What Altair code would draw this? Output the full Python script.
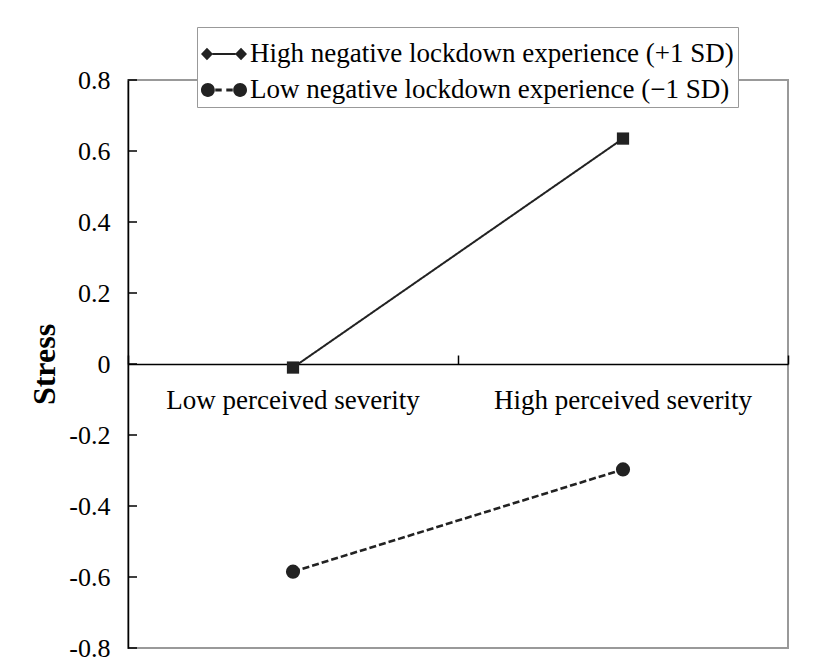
import altair as alt
import pandas as pd

# ---- data ----
categories = ["Low perceived severity", "High perceived severity"]
series = ["High negative lockdown experience (+1 SD)",
          "Low negative lockdown experience (\u22121 SD)"]
high_neg_values = [-0.01, 0.635]
low_neg_values = [-0.585, -0.297]
ytick_values = [0.8, 0.6, 0.4, 0.2, 0.0, -0.2, -0.4, -0.6, -0.8]

rows = []
for c, v in zip(categories, high_neg_values):
    rows.append({"category": c, "series": series[0], "value": v})
for c, v in zip(categories, low_neg_values):
    rows.append({"category": c, "series": series[1], "value": v})
df = pd.DataFrame(rows)
ticks_df = pd.DataFrame({"value": ytick_values})

FONT = "Liberation Serif"
INK = "#222222"
W, H = 660, 568

# custom legend glyphs: marker - line - marker
sym_high = ("M-1,0L-0.74,-0.27L-0.48,0L-0.74,0.27Z"
            "M-0.5,-0.045L0.5,-0.045L0.5,0.045L-0.5,0.045Z"
            "M0.48,0L0.74,-0.27L1,0L0.74,0.27Z")
sym_low = ("M-1,0A0.3,0.3 0 1,0 -0.4,0A0.3,0.3 0 1,0 -1,0Z"
           "M-0.38,-0.065L-0.10,-0.065L-0.10,0.065L-0.38,0.065Z"
           "M0.10,-0.065L0.38,-0.065L0.38,0.065L0.10,0.065Z"
           "M0.4,0A0.3,0.3 0 1,0 1,0A0.3,0.3 0 1,0 0.4,0Z")

yscale = alt.Scale(domain=[-0.8, 0.8], nice=False, zero=False)
xscale = alt.Scale(domain=categories, paddingInner=0, paddingOuter=0)

y_axis = alt.Axis(values=ytick_values, ticks=False, tickSize=0,
                  labelPadding=18, grid=False,
                  labelExpr="toString(datum.value)",
                  labelFont=FONT, labelFontSize=26, labelColor="black",
                  domainColor="black", domainWidth=1.5,
                  title="Stress", titleFont=FONT, titleFontSize=32,
                  titleFontWeight="bold", titleColor="black",
                  titleAngle=270, titleX=-84, titleY=H / 2,
                  titleAlign="center", titleBaseline="middle")

lines = alt.Chart(df).mark_line(color=INK).encode(
    x=alt.X("category:N", scale=xscale, sort=categories,
            axis=alt.Axis(orient="bottom", offset=-H / 2, domain=False,
                          ticks=False, labelAngle=0, labelPadding=23,
                          labelFont=FONT, labelFontSize=27, labelColor="black",
                          labelLimit=0, title=None, grid=False)),
    y=alt.Y("value:Q", scale=yscale, axis=y_axis),
    strokeDash=alt.StrokeDash("series:N", legend=None,
                              scale=alt.Scale(domain=series, range=[[1, 0], [7, 3]])),
    strokeWidth=alt.StrokeWidth("series:N", legend=None,
                                scale=alt.Scale(domain=series, range=[2, 2.6])),
)

points = alt.Chart(df).mark_point(filled=True, color=INK, opacity=1).encode(
    x=alt.X("category:N", scale=xscale, sort=categories,
            axis=alt.Axis(orient="top", offset=-H / 2, labels=False,
                          tickBand="extent", tickSize=9, tickColor="black",
                          tickWidth=1.5, domainColor="black", domainWidth=1.5,
                          title=None, grid=False)),
    y=alt.Y("value:Q", scale=yscale),
    shape=alt.Shape("series:N", legend=None,
                    scale=alt.Scale(domain=series, range=["square", "circle"])),
    size=alt.Size("series:N", legend=None,
                  scale=alt.Scale(domain=series, range=[150, 200])),
)

legend_layer = alt.Chart(df).mark_point(filled=True, color=INK, opacity=1).encode(
    x=alt.X("category:N", scale=xscale, sort=categories, axis=None),
    y=alt.Y("value:Q", scale=yscale),
    shape=alt.Shape("series:N",
                    scale=alt.Scale(domain=series, range=[sym_high, sym_low]),
                    legend=alt.Legend(orient="none", legendX=69, legendY=-53,
                                      title=None, symbolSize=2116,
                                      symbolStrokeWidth=0, symbolFillColor=INK,
                                      symbolOpacity=1,
                                      labelFont=FONT, labelFontSize=27,
                                      labelColor="black", labelLimit=0,
                                      labelOffset=3, padding=4, rowPadding=0,
                                      strokeColor="#999999", fillColor="white")),
).transform_filter("false")

yticks = alt.Chart(ticks_df).mark_rule(color="black", strokeWidth=1.5).encode(
    x=alt.value(0), x2=alt.value(9),
    y=alt.Y("value:Q", scale=yscale),
)

chart = alt.layer(lines, points, legend_layer, yticks).resolve_scale(
    shape="independent"
).resolve_axis(x="independent").properties(
    width=W, height=H,
    padding={"left": 128, "top": 80, "right": 30, "bottom": 21},
    autosize=alt.AutoSizeParams(type="none"),
    background="white",
).configure(font=FONT).configure_view(
    stroke="#999999", strokeWidth=2
).configure_axis(
    labelFont=FONT, titleFont=FONT
).configure_legend(labelFont=FONT)

chart.save("out.html", embed_options={"renderer": "svg", "actions": False})
